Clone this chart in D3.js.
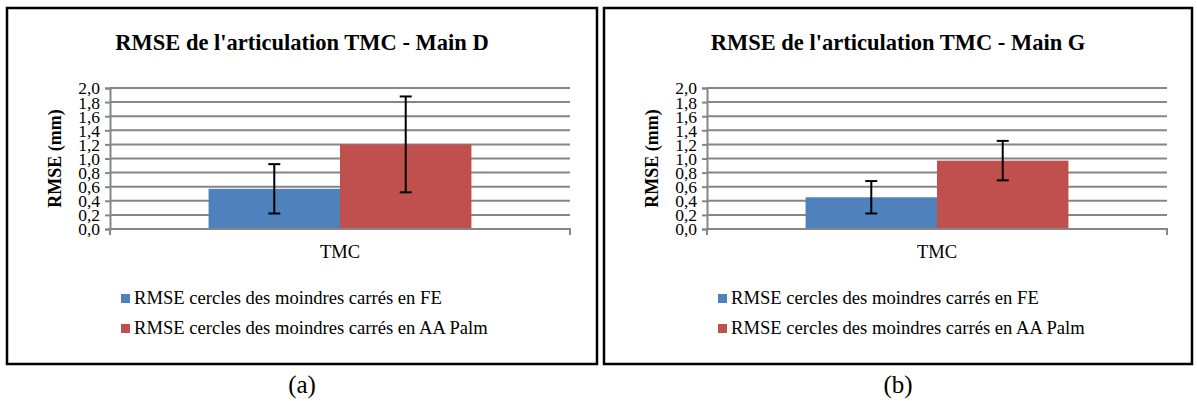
<!DOCTYPE html>
<html>
<head>
<meta charset="utf-8">
<script src="https://cdn.jsdelivr.net/npm/d3@7"></script>
</head>
<body style="margin:0;padding:0;background:#fff">
<svg id="chart" width="1197" height="401" style="display:block;font-family:'Liberation Serif'"></svg>
<script>
// ---- data ----
const categories = ["TMC"];
const seriesNames = [
  "RMSE cercles des moindres carrés en FE",
  "RMSE cercles des moindres carrés en AA Palm"
];
const seriesColors = ["#4f81bd", "#c0504d"];
const titles = ["RMSE de l'articulation TMC - Main D", "RMSE de l'articulation TMC - Main G"];
const panelLabels = ["(a)", "(b)"];
const valuesD = [0.57, 1.20];
const errorsD = [0.35, 0.68];
const valuesG = [0.45, 0.97];
const errorsG = [0.23, 0.28];
const yTicks = [0, 0.2, 0.4, 0.6, 0.8, 1.0, 1.2, 1.4, 1.6, 1.8, 2.0];
const yLabel = "RMSE (mm)";

const FONT = '"Liberation Serif", "Times New Roman", serif';
const svg = d3.select("#chart");
const fmt = v => d3.format(".1f")(v).replace(".", ",");

function addText(sel) {
  return sel.append("text").attr("font-family", "Liberation Serif").style("font-family", FONT);
}

const panels = [
  { box: [7, 8, 597, 364], values: valuesD, errors: errorsD, title: titles[0], label: panelLabels[0] },
  { box: [604, 8, 1192, 364], values: valuesG, errors: errorsG, title: titles[1], label: panelLabels[1] }
];

panels.forEach(p => {
  const [bx0, by0, bx1, by1] = p.box;
  const g = svg.append("g");
  g.append("rect").attr("x", bx0).attr("y", by0)
    .attr("width", bx1 - bx0).attr("height", by1 - by0)
    .attr("fill", "#fff").attr("stroke", "#000").attr("stroke-width", 2.5);

  const cx = (bx0 + bx1) / 2;
  addText(g).attr("x", cx).attr("y", by0 + 42)
    .attr("text-anchor", "middle").attr("font-weight", "bold")
    .attr("font-size", 22.5).text(p.title);

  const left = bx0 + 103, right = bx0 + 563, top = 88, bottom = 229;
  const y = d3.scaleLinear().domain([0, 2]).range([bottom, top]);
  const x0 = d3.scaleBand().domain(categories).range([left, right]).paddingInner(0).paddingOuter(0.375);
  const x1 = d3.scaleBand().domain(seriesNames).range([0, x0.bandwidth()]);

  g.append("g").selectAll("line").data(yTicks.slice(1)).join("line")
    .attr("x1", left).attr("x2", right)
    .attr("y1", d => y(d)).attr("y2", d => y(d))
    .attr("stroke", "#868686").attr("stroke-width", 2);

  const yAxis = g.append("g").attr("transform", `translate(${left},0)`)
    .call(d3.axisLeft(y).tickValues(yTicks).tickFormat(fmt).tickSize(5).tickPadding(5));
  yAxis.attr("font-family", "Liberation Serif").style("font-family", FONT).attr("font-size", 17);
  yAxis.select(".domain").attr("stroke", "#868686").attr("stroke-width", 2);
  yAxis.selectAll(".tick line").attr("stroke", "#868686").attr("stroke-width", 2);
  yAxis.selectAll(".tick text").style("font-family", FONT).attr("font-size", 17.5)
    .attr("fill", "#000").attr("dy", "0.34em");

  addText(g).attr("transform", `translate(${bx0 + 54},${(top + bottom) / 2}) rotate(-90)`)
    .attr("text-anchor", "middle").attr("font-weight", "bold").attr("font-size", 18)
    .text(yLabel);

  const barG = g.append("g");
  categories.forEach(cat => {
    seriesNames.forEach((s, i) => {
      barG.append("rect")
        .attr("x", x0(cat) + x1(s)).attr("width", x1.bandwidth())
        .attr("y", y(p.values[i])).attr("height", y(0) - y(p.values[i]))
        .attr("fill", seriesColors[i]);
    });
  });

  const xAxis = g.append("g").attr("transform", `translate(0,${bottom})`)
    .call(d3.axisBottom(x0).tickSize(0).tickPadding(16));
  xAxis.attr("font-family", "Liberation Serif").style("font-family", FONT).attr("font-size", 18);
  xAxis.select(".domain").attr("stroke", "#868686").attr("stroke-width", 2)
    .attr("d", `M${left},6V0H${right}V6`);
  xAxis.selectAll(".tick text").style("font-family", FONT).attr("font-size", 18.5).attr("fill", "#000");

  const errG = g.append("g").attr("stroke", "#000").attr("stroke-width", 2);
  categories.forEach(cat => {
    seriesNames.forEach((s, i) => {
      const xc = x0(cat) + x1(s) + x1.bandwidth() / 2;
      const lo = p.values[i] - p.errors[i], hi = p.values[i] + p.errors[i];
      errG.append("line").attr("x1", xc).attr("x2", xc).attr("y1", y(hi)).attr("y2", y(lo));
      errG.append("line").attr("x1", xc - 6).attr("x2", xc + 6).attr("y1", y(hi)).attr("y2", y(hi));
      errG.append("line").attr("x1", xc - 6).attr("x2", xc + 6).attr("y1", y(lo)).attr("y2", y(lo));
    });
  });

  seriesNames.forEach((s, i) => {
    const ly = 304 + i * 30;
    g.append("rect").attr("x", bx0 + 114).attr("y", ly - 10).attr("width", 9).attr("height", 9)
      .attr("fill", seriesColors[i]);
    addText(g).attr("x", bx0 + 127).attr("y", ly).attr("font-size", 18.6).text(s);
  });

  addText(svg).attr("x", cx).attr("y", 393).attr("text-anchor", "middle")
    .attr("font-size", 25).text(p.label);
});
</script>
</body>
</html>
